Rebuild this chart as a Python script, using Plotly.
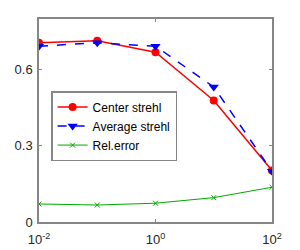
import plotly.graph_objects as go

x_vals = [0.01, 0.1, 1, 10, 100]
center_strehl = [0.706, 0.714, 0.669, 0.479, 0.203]
average_strehl = [0.693, 0.706, 0.693, 0.532, 0.200]
rel_error = [0.071, 0.067, 0.074, 0.096, 0.137]

x_tickvals = [0.01, 1, 100]
x_ticktext = ["10<sup>-2</sup>", "10<sup>0</sup>", "10<sup>2</sup>"]
y_tickvals = [0, 0.3, 0.6]
y_ticktext = ["0", "0.3", "0.6"]

fig = go.Figure()
fig.add_trace(go.Scatter(x=x_vals, y=center_strehl, name="Center strehl", mode="lines+markers",
                         line=dict(color="#ff0000", width=1.5),
                         marker=dict(symbol="circle", size=8, color="#ff0000")))
fig.add_trace(go.Scatter(x=x_vals, y=average_strehl, name="Average strehl", mode="lines+markers",
                         line=dict(color="#0000ff", width=1.5, dash="dash"),
                         marker=dict(symbol="triangle-down", size=9, color="#0000ff")))
fig.add_trace(go.Scatter(x=x_vals, y=rel_error, name="Rel.error", mode="lines+markers",
                         line=dict(color="#00aa00", width=1),
                         marker=dict(symbol="x-thin", size=5, color="#00aa00",
                                     line=dict(color="#00aa00", width=1))))

axis_common = dict(showline=True, linecolor="#868686", linewidth=1.5, mirror="ticks",
                   ticks="inside", ticklen=3, tickcolor="#868686", showgrid=False, zeroline=False,
                   automargin=False,
                   tickfont=dict(family="Liberation Sans, Arial", size=13, color="#262626"))

fig.update_xaxes(type="log", range=[-2, 2], tickvals=x_tickvals, ticktext=x_ticktext,
                 ticklabelstandoff=5, **axis_common)
fig.update_yaxes(range=[0, 0.8], tickvals=y_tickvals, ticktext=y_ticktext,
                 ticklabelstandoff=2, **axis_common)

fig.update_layout(
    width=300, height=250,
    margin=dict(l=39, r=28, t=19, b=28, autoexpand=False),
    plot_bgcolor="white", paper_bgcolor="white",
    showlegend=True,
    legend=dict(x=0.052, y=0.645, xanchor="left", yanchor="top",
                bordercolor="#868686", borderwidth=1.5, bgcolor="white",
                font=dict(family="Liberation Sans, Arial", size=12, color="#000000"),
                tracegroupgap=0, itemwidth=30),
)

fig.write_html("out.html", config={"displayModeBar": False},
               post_script="document.body.style.margin='0px';document.body.style.overflow='hidden';")
